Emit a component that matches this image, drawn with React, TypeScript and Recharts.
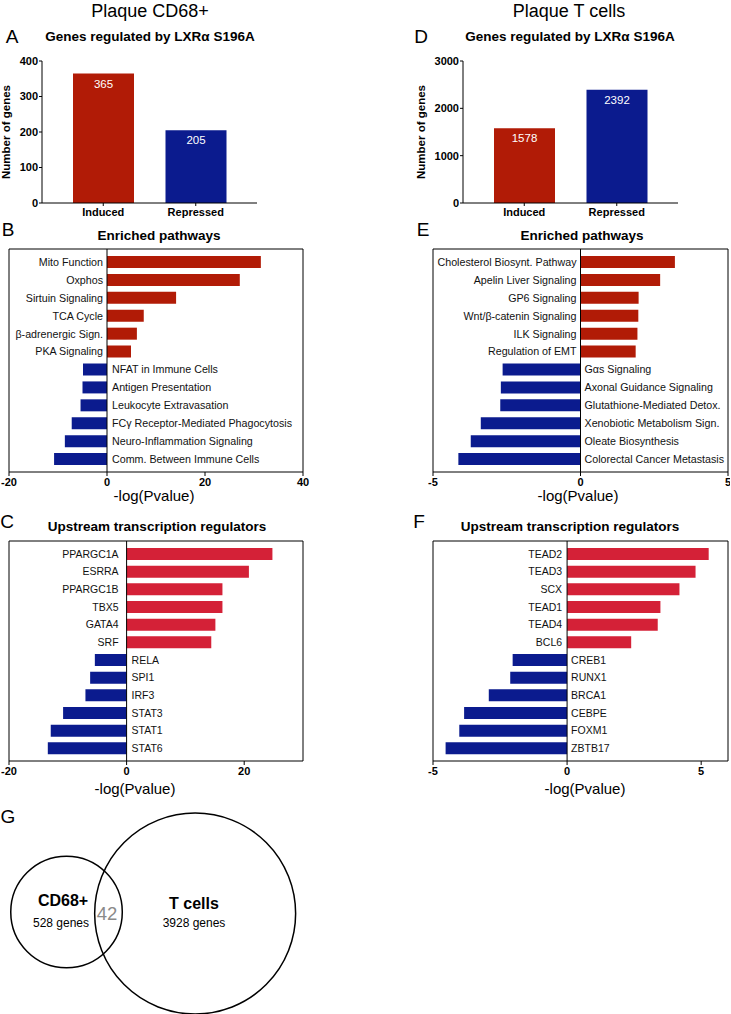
import React from 'react';
import {
  BarChart, Bar, XAxis, YAxis, Cell, LabelList, ReferenceLine,
  ScatterChart, Scatter,
} from 'recharts';

// ---------- data ----------
const countCategories = ['Induced', 'Repressed'];
const cd68Counts = [365, 205];
const tcellCounts = [1578, 2392];

const cd68PathwayNames = [
  'Mito Function', 'Oxphos', 'Sirtuin Signaling', 'TCA Cycle', 'β-adrenergic Sign.', 'PKA Signaling',
  'NFAT in Immune Cells', 'Antigen Presentation', 'Leukocyte Extravasation',
  'FCγ Receptor-Mediated Phagocytosis', 'Neuro-Inflammation Signaling', 'Comm. Between Immune Cells',
];
const cd68PathwayValues = [31.4, 27.1, 14.1, 7.5, 6.1, 4.9, -4.9, -5.0, -5.4, -7.2, -8.6, -10.8];

const tcellPathwayNames = [
  'Cholesterol Biosynt. Pathway', 'Apelin Liver Signaling', 'GP6 Signaling', 'Wnt/β-catenin Signaling',
  'ILK Signaling', 'Regulation of EMT', 'Gαs Signaling', 'Axonal Guidance Signaling',
  'Glutathione-Mediated Detox.', 'Xenobiotic Metabolism Sign.', 'Oleate Biosynthesis', 'Colorectal Cancer Metastasis',
];
const tcellPathwayValues = [3.2, 2.7, 1.97, 1.96, 1.93, 1.87, -2.64, -2.7, -2.72, -3.38, -3.72, -4.14];

const cd68RegulatorNames = ['PPARGC1A', 'ESRRA', 'PPARGC1B', 'TBX5', 'GATA4', 'SRF', 'RELA', 'SPI1', 'IRF3', 'STAT3', 'STAT1', 'STAT6'];
const cd68RegulatorValues = [24.8, 20.8, 16.3, 16.3, 15.1, 14.4, -5.4, -6.2, -7.0, -10.8, -12.9, -13.4];

const tcellRegulatorNames = ['TEAD2', 'TEAD3', 'SCX', 'TEAD1', 'TEAD4', 'BCL6', 'CREB1', 'RUNX1', 'BRCA1', 'CEBPE', 'FOXM1', 'ZBTB17'];
const tcellRegulatorValues = [5.28, 4.79, 4.19, 3.48, 3.38, 2.39, -2.03, -2.12, -2.92, -3.84, -4.02, -4.53];

const cd68CountTicks = [0, 100, 200, 300, 400];
const tcellCountTicks = [0, 1000, 2000, 3000];
const cd68PathwayTicks = [-20, 0, 20, 40];
const tcellPathwayTicks = [-5, 0, 5];
const cd68RegulatorTicks = [-20, 0, 20];
const tcellRegulatorTicks = [-5, 0, 5];

const vennSets = [
  { name: 'CD68+', genes: 528 },
  { name: 'T cells', genes: 3928 },
];
const vennOverlap = 42;

// ---------- styles / layout ----------
const FONT = '"Liberation Sans", Arial, Helvetica, sans-serif';
const RED_DARK = '#B11B06';
const RED_BRIGHT = '#D42137';
const BLUE = '#0B1B8E';
const BLACK = '#000';

// Venn layout in units of the large circle's radius
const vennLayout = [
  { cx: 0, cy: 0.015, r: 0.555 },
  { cx: 1.28, cy: 0, r: 1.0 },
];
const VENN_X_DOMAIN: [number, number] = [-0.662, 2.423];
const VENN_Y_DOMAIN: [number, number] = [-1.0, 1.13];

function T({ x, y, size, bold, color, rotate, children }: any) {
  return (
    <div
      style={{
        position: 'absolute', left: x, top: y,
        transform: `translate(-50%, -50%)${rotate ? ' rotate(-90deg)' : ''}`,
        fontSize: size, fontWeight: bold ? 700 : 400, color: color || '#000',
        lineHeight: 1.15, whiteSpace: 'nowrap',
      }}
    >
      {children}
    </div>
  );
}

function CountChart({ left, top, values, domain, ticks }: any) {
  const data = countCategories.map((name, i) => ({ name, value: values[i] }));
  const colors = [RED_DARK, BLUE];
  return (
    <div style={{ position: 'absolute', left, top }}>
      <BarChart width={270} height={180} data={data} margin={{ top: 11, right: 13, left: 10, bottom: 5 }}>
        <XAxis
          dataKey="name"
          padding={{ left: 15, right: 15 }}
          height={22}
          tickSize={3}
          tickMargin={2}
          interval={0}
          axisLine={{ stroke: BLACK }}
          tickLine={{ stroke: BLACK }}
          tick={{ fontSize: 11, fontWeight: 700, fill: BLACK }}
        />
        <YAxis
          width={32}
          domain={domain}
          ticks={ticks}
          interval={0}
          tickSize={3}
          tickMargin={1}
          axisLine={{ stroke: BLACK }}
          tickLine={{ stroke: BLACK }}
          tick={{ fontSize: 11, fontWeight: 700, fill: BLACK }}
        />
        <Bar dataKey="value" barSize={61} isAnimationActive={false}>
          {data.map((d, i) => <Cell key={d.name} fill={colors[i]} />)}
          <LabelList dataKey="value" position="insideTop" offset={6} fill="#fff" fontSize={11.5} />
        </Bar>
      </BarChart>
    </div>
  );
}

function makeLabel(data: any[], fontSize: number, posGap: number, negGap: number) {
  return (props: any) => {
    const vb = props.viewBox || {};
    const x = Number(props.x ?? vb.x);
    const w = Number(props.width ?? vb.width);
    const y = Number(props.y ?? vb.y);
    const h = Number(props.height ?? vb.height);
    const entry = data.find((d) => d.name === props.value);
    const pos = entry ? entry.value >= 0 : w >= 0;
    const zeroX = pos ? Math.min(x, x + w) : Math.max(x, x + w);
    const cy = y + h / 2;
    return (
      <text
        x={pos ? zeroX - posGap : zeroX + negGap}
        y={cy}
        dy="0.36em"
        textAnchor={pos ? 'end' : 'start'}
        fontSize={fontSize}
        fill="#111"
      >
        {props.value}
      </text>
    );
  };
}

function HBarChart({ left, top, width, plotHeight, names, values, domain, ticks, posColor, fontSize, posGap, negGap, marginRight }: any) {
  const data = names.map((name: string, i: number) => ({ name, value: values[i] }));
  const height = 9 + plotHeight + 24;
  return (
    <div style={{ position: 'absolute', left, top }}>
      <BarChart
        layout="vertical"
        width={width}
        height={height}
        data={data}
        margin={{ top: 8, right: marginRight, left: 8, bottom: 0 }}
      >
        <XAxis
          type="number"
          domain={domain}
          ticks={ticks}
          interval={0}
          height={24}
          tickSize={4}
          tickMargin={2}
          allowDataOverflow
          axisLine={{ stroke: BLACK }}
          tickLine={{ stroke: BLACK }}
          tick={{ fontSize: 11, fontWeight: 700, fill: BLACK }}
        />
        <XAxis
          xAxisId="top"
          orientation="top"
          type="number"
          domain={domain}
          allowDataOverflow
          height={1}
          tick={false}
          tickLine={false}
          axisLine={{ stroke: BLACK }}
        />
        <YAxis
          type="category"
          dataKey="name"
          width={1}
          interval={0}
          padding={{ top: 4, bottom: 4 }}
          tick={false}
          tickSize={3}
          tickLine={{ stroke: '#444' }}
          axisLine={{ stroke: BLACK }}
        />
        <YAxis
          yAxisId="right"
          orientation="right"
          type="category"
          dataKey="name"
          width={1}
          interval={0}
          padding={{ top: 4, bottom: 4 }}
          tick={false}
          tickLine={false}
          axisLine={{ stroke: BLACK }}
        />
        <Bar dataKey="value" barSize={12} isAnimationActive={false}>
          {data.map((d: any) => <Cell key={d.name} fill={d.value >= 0 ? posColor : BLUE} />)}
          <LabelList dataKey="name" content={makeLabel(data, fontSize, posGap, negGap)} />
        </Bar>
        <ReferenceLine x={0} stroke={BLACK} strokeWidth={1} ifOverflow="extendDomain" />
      </BarChart>
    </div>
  );
}

function VennChart({ left, top }: any) {
  const W = 310;
  const H = 214;
  const pxPerUnit = W / (VENN_X_DOMAIN[1] - VENN_X_DOMAIN[0]);
  const data = vennSets.map((s, i) => ({ ...s, x: vennLayout[i].cx, y: vennLayout[i].cy, r: vennLayout[i].r }));
  const shape = (props: any) => (
    <circle cx={props.cx} cy={props.cy} r={props.payload.r * pxPerUnit} fill="none" stroke="#000" strokeWidth={1.5} />
  );
  return (
    <div style={{ position: 'absolute', left, top }}>
      <ScatterChart width={W} height={H} margin={{ top: 0, right: 0, bottom: 0, left: 0 }}>
        <XAxis type="number" dataKey="x" domain={VENN_X_DOMAIN} hide allowDataOverflow />
        <YAxis type="number" dataKey="y" domain={VENN_Y_DOMAIN} hide allowDataOverflow width={0} />
        <Scatter data={data} shape={shape} isAnimationActive={false} />
      </ScatterChart>
    </div>
  );
}

export default function App() {
  return (
    <div
      style={{
        position: 'absolute', left: 0, top: 0, width: 731, height: 1014,
        overflow: 'hidden', background: '#fff', fontFamily: FONT, color: '#000',
      }}
    >
      {/* column headers */}
      <T x={150} y={11} size={18}>Plaque CD68+</T>
      <T x={569} y={11} size={18}>Plaque T cells</T>

      {/* Panel A */}
      <T x={12} y={37} size={19}>A</T>
      <T x={150} y={37} size={13.5} bold>Genes regulated by LXRα S196A</T>
      <T x={7} y={132} size={11.5} bold rotate>Number of genes</T>
      <CountChart left={0} top={50} values={cd68Counts} domain={[0, 400]} ticks={cd68CountTicks} />

      {/* Panel D */}
      <T x={421} y={37} size={19}>D</T>
      <T x={570} y={37} size={13.5} bold>Genes regulated by LXRα S196A</T>
      <T x={422} y={132} size={11.5} bold rotate>Number of genes</T>
      <CountChart left={421} top={50} values={tcellCounts} domain={[0, 3000]} ticks={tcellCountTicks} />

      {/* Panel B */}
      <T x={8} y={230} size={19}>B</T>
      <T x={159} y={236} size={13.5} bold>Enriched pathways</T>
      <HBarChart
        left={0} top={240} width={310} plotHeight={223} marginRight={6}
        names={cd68PathwayNames} values={cd68PathwayValues}
        domain={[-20, 40]} ticks={cd68PathwayTicks} posColor={RED_DARK}
        fontSize={10.7} posGap={4} negGap={5}
      />
      <T x={154} y={496} size={15}>-log(Pvalue)</T>

      {/* Panel E */}
      <T x={423} y={230} size={19}>E</T>
      <T x={582} y={236} size={13.5} bold>Enriched pathways</T>
      <HBarChart
        left={424} top={240} width={306} plotHeight={223} marginRight={1}
        names={tcellPathwayNames} values={tcellPathwayValues}
        domain={[-5, 5]} ticks={tcellPathwayTicks} posColor={RED_DARK}
        fontSize={10.7} posGap={4} negGap={4}
      />
      <T x={578} y={496} size={15}>-log(Pvalue)</T>

      {/* Panel C */}
      <T x={7} y={522} size={19}>C</T>
      <T x={157} y={527} size={13.5} bold>Upstream transcription regulators</T>
      <HBarChart
        left={0} top={532} width={310} plotHeight={220} marginRight={6}
        names={cd68RegulatorNames} values={cd68RegulatorValues}
        domain={[-20, 30]} ticks={cd68RegulatorTicks} posColor={RED_BRIGHT}
        fontSize={10.5} posGap={8} negGap={5}
      />
      <T x={135} y={789} size={15}>-log(Pvalue)</T>

      {/* Panel F */}
      <T x={419} y={522} size={19}>F</T>
      <T x={570} y={527} size={13.5} bold>Upstream transcription regulators</T>
      <HBarChart
        left={424} top={532} width={306} plotHeight={220} marginRight={1}
        names={tcellRegulatorNames} values={tcellRegulatorValues}
        domain={[-5, 6]} ticks={tcellRegulatorTicks} posColor={RED_BRIGHT}
        fontSize={10.5} posGap={5} negGap={4}
      />
      <T x={585} y={789} size={15}>-log(Pvalue)</T>

      {/* Panel G */}
      <T x={8} y={817} size={19}>G</T>
      <VennChart left={0} top={800} />
      <T x={63} y={901} size={16} bold>{vennSets[0].name}</T>
      <T x={61} y={924} size={12}>{vennSets[0].genes} genes</T>
      <T x={107} y={914} size={18.5} color="#8a8a8a">{vennOverlap}</T>
      <T x={194} y={904} size={16} bold>{vennSets[1].name}</T>
      <T x={194} y={924} size={12}>{vennSets[1].genes} genes</T>
    </div>
  );
}
